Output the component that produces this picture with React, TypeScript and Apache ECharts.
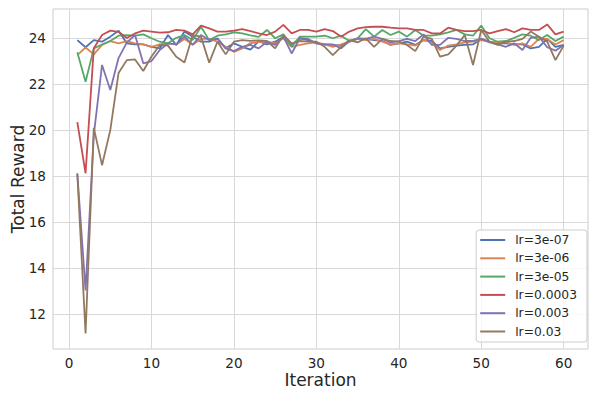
import React, { useEffect, useRef } from "react";
import * as echarts from "echarts";

const iterations = [
  1, 2, 3, 4, 5, 6, 7, 8, 9, 10, 11, 12, 13, 14, 15, 16, 17, 18, 19, 20,
  21, 22, 23, 24, 25, 26, 27, 28, 29, 30, 31, 32, 33, 34, 35, 36, 37, 38, 39, 40,
  41, 42, 43, 44, 45, 46, 47, 48, 49, 50, 51, 52, 53, 54, 55, 56, 57, 58, 59, 60,
];

const xTicks = [0, 10, 20, 30, 40, 50, 60];
const yTicks = [12, 14, 16, 18, 20, 22, 24];

const lr3e07 = [
  23.91, 23.6, 23.91, 23.84, 24.06, 24.32, 23.77, 23.72, 23.72, 23.62, 23.55,
  24.13, 23.7, 24.28, 24.06, 23.84, 23.84, 23.99, 23.55, 23.77, 23.62, 23.5, 23.86,
  23.72, 23.84, 24.06, 23.7, 23.99, 23.91, 23.77, 23.72, 23.7, 23.67, 23.84, 23.96, 23.96,
  23.91, 23.87, 23.7, 23.77, 23.84, 23.7, 23.91, 23.87, 23.55, 23.62, 23.67, 23.7, 23.72,
  23.96, 23.84, 23.77, 23.77, 23.72, 23.72, 23.55, 23.62, 23.96, 23.62, 23.7,
];
const lr3e06 = [
  23.26, 23.59, 23.29, 23.7, 23.87, 23.77, 23.87, 23.77, 23.72, 23.62, 23.72,
  23.77, 23.72, 23.96, 23.72, 23.96, 23.96, 23.84, 23.62, 23.4, 23.55, 23.78, 23.82,
  23.84, 23.77, 23.99, 23.62, 23.7, 23.77, 23.81, 23.72, 23.62, 23.72, 23.84, 23.96, 23.91,
  23.96, 23.84, 23.72, 23.77, 23.72, 23.67, 23.91, 23.81, 23.48, 23.67, 23.72, 23.81, 23.84,
  23.91, 23.84, 23.81, 23.81, 23.7, 23.77, 23.62, 23.96, 23.96, 23.72, 23.91,
];
const lr3e05 = [
  23.38, 22.1, 23.55, 23.72, 23.87, 24.1, 24.13, 24.1, 24.16, 23.99, 23.84,
  23.77, 24.01, 24.13, 23.91, 24.49, 23.91, 24.1, 24.16, 24.25, 24.2, 24.12, 24.05,
  24.35, 23.99, 24.16, 23.62, 24.06, 24.06, 24.06, 24.1, 23.99, 24.1, 23.87, 23.99, 24.39,
  24.06, 24.35, 24.13, 24.28, 24.06, 24.35, 24.1, 24.1, 24.16, 24.25, 24.35, 24.16, 24.1,
  24.54, 23.99, 23.84, 23.87, 24.01, 24.16, 24.1, 23.91, 24.13, 23.87, 24.06,
];
const lr0003 = [
  20.35, 18.13, 23.56, 24.13, 24.32, 24.27, 24.0, 24.2, 24.32, 24.28, 24.23,
  24.25, 24.35, 24.32, 24.16, 24.54, 24.42, 24.28, 24.28, 24.32, 24.39, 24.3, 24.2,
  24.13, 24.28, 24.57, 24.2, 24.35, 24.35, 24.28, 24.39, 24.3, 24.06, 24.28, 24.42, 24.47,
  24.49, 24.49, 24.45, 24.42, 24.42, 24.35, 24.35, 24.2, 24.2, 24.45, 24.35, 24.3, 24.3,
  24.35, 24.2, 24.3, 24.39, 24.25, 24.42, 24.35, 24.35, 24.59, 24.16, 24.28,
];
const lr003 = [
  18.13, 13.04, 19.8, 22.83, 21.74, 23.13, 23.8, 24.13, 22.9, 23.0, 23.48,
  23.77, 23.72, 24.06, 23.7, 24.13, 23.91, 23.96, 23.55, 23.43, 23.62, 23.7, 23.55,
  23.84, 23.7, 24.06, 23.33, 23.99, 23.96, 23.77, 23.72, 23.72, 23.55, 23.87, 23.99, 23.96,
  24.06, 23.96, 23.81, 23.87, 23.96, 23.87, 24.16, 23.7, 23.7, 24.01, 23.96, 23.87, 23.88,
  23.96, 23.81, 23.72, 23.62, 23.77, 23.48, 24.01, 24.06, 23.6, 23.45, 23.7,
];
const lr03 = [
  18.1, 11.17, 20.1, 18.48, 20.0, 22.48, 23.04, 23.07, 22.57, 23.2, 23.7,
  23.67, 23.19, 22.94, 24.13, 24.06, 22.93, 23.84, 23.29, 23.84, 23.91, 23.88, 23.9,
  23.87, 23.55, 24.13, 23.77, 23.87, 23.84, 23.84, 23.62, 23.26, 23.62, 23.91, 23.81, 23.99,
  23.62, 23.96, 23.87, 23.84, 23.7, 23.43, 24.06, 23.96, 23.19, 23.29, 23.67, 24.13, 22.83,
  24.35, 23.84, 23.7, 23.84, 23.87, 23.96, 24.28, 24.06, 23.84, 23.04, 23.67,
];

const seriesNames = ["lr=3e-07", "lr=3e-06", "lr=3e-05", "lr=0.0003", "lr=0.003", "lr=0.03"];
const seriesValues = [lr3e07, lr3e06, lr3e05, lr0003, lr003, lr03];
const seriesColors = ["#4c72b0", "#dd8452", "#55a868", "#c44e52", "#8172b3", "#937860"];

const FONT = "DejaVu Sans";
const TEXT = "#262626";
const GRID = "#d9d9d9";

export default function App() {
  const ref = useRef<HTMLDivElement>(null);
  useEffect(() => {
    if (!ref.current) return;
    const chart = echarts.init(ref.current, undefined, { renderer: "svg" });
    chart.setOption({
      animation: false,
      backgroundColor: "#ffffff",
      textStyle: { fontFamily: FONT },
      grid: {
        left: 53,
        right: 10,
        top: 9,
        bottom: 50,
        containLabel: false,
        outerBoundsMode: "none",
        show: true,
        borderColor: "#cccccc",
        borderWidth: 1,
        backgroundColor: "#ffffff",
      },
      xAxis: {
        type: "value",
        min: -1.95,
        max: 62.95,
        name: "Iteration",
        nameLocation: "middle",
        nameMoveOverlap: false,
        nameGap: 22.5,
        nameTextStyle: { fontSize: 17, lineHeight: 17, color: TEXT, fontFamily: FONT },
        axisLine: { show: false },
        axisTick: { show: false, customValues: xTicks },
        axisLabel: {
          customValues: xTicks,
          fontSize: 13.6,
          lineHeight: 14,
          color: TEXT,
          fontFamily: FONT,
          margin: 7,
        },
        splitLine: { show: true, lineStyle: { color: GRID, width: 1 } },
      },
      yAxis: {
        type: "value",
        min: 10.5,
        max: 25.26,
        name: "Total Reward",
        nameLocation: "middle",
        nameMoveOverlap: false,
        nameGap: 27,
        nameTextStyle: { fontSize: 17, color: TEXT, fontFamily: FONT },
        axisLine: { show: false },
        axisTick: { show: false, customValues: yTicks },
        axisLabel: {
          customValues: yTicks,
          fontSize: 13.6,
          color: TEXT,
          fontFamily: FONT,
          margin: 7,
        },
        splitLine: { show: true, lineStyle: { color: GRID, width: 1 } },
      },
      legend: {
        orient: "vertical",
        right: 11,
        top: 230,
        icon: "rect",
        itemWidth: 25,
        itemHeight: 2,
        itemGap: 3.3,
        padding: [2.5, 10, 3, 4],
        backgroundColor: "rgba(255,255,255,0.8)",
        borderColor: "#cccccc",
        borderWidth: 1,
        borderRadius: 3,
        textStyle: {
          fontSize: 12.3,
          lineHeight: 15,
          color: TEXT,
          fontFamily: FONT,
          padding: [0, 0, 0, 5],
        },
        data: seriesNames,
      },
      series: seriesNames.map((name, k) => ({
        name,
        type: "line",
        showSymbol: false,
        symbol: "none",
        data: iterations.map((it, i) => [it, seriesValues[k][i]]),
        itemStyle: { color: seriesColors[k] },
        lineStyle: { color: seriesColors[k], width: 1.8 },
        emphasis: { disabled: true },
      })),
    });
    return () => chart.dispose();
  }, []);
  return (
    <div
      ref={ref}
      style={{ position: "fixed", left: 0, top: 0, width: 598, height: 399 }}
    />
  );
}
